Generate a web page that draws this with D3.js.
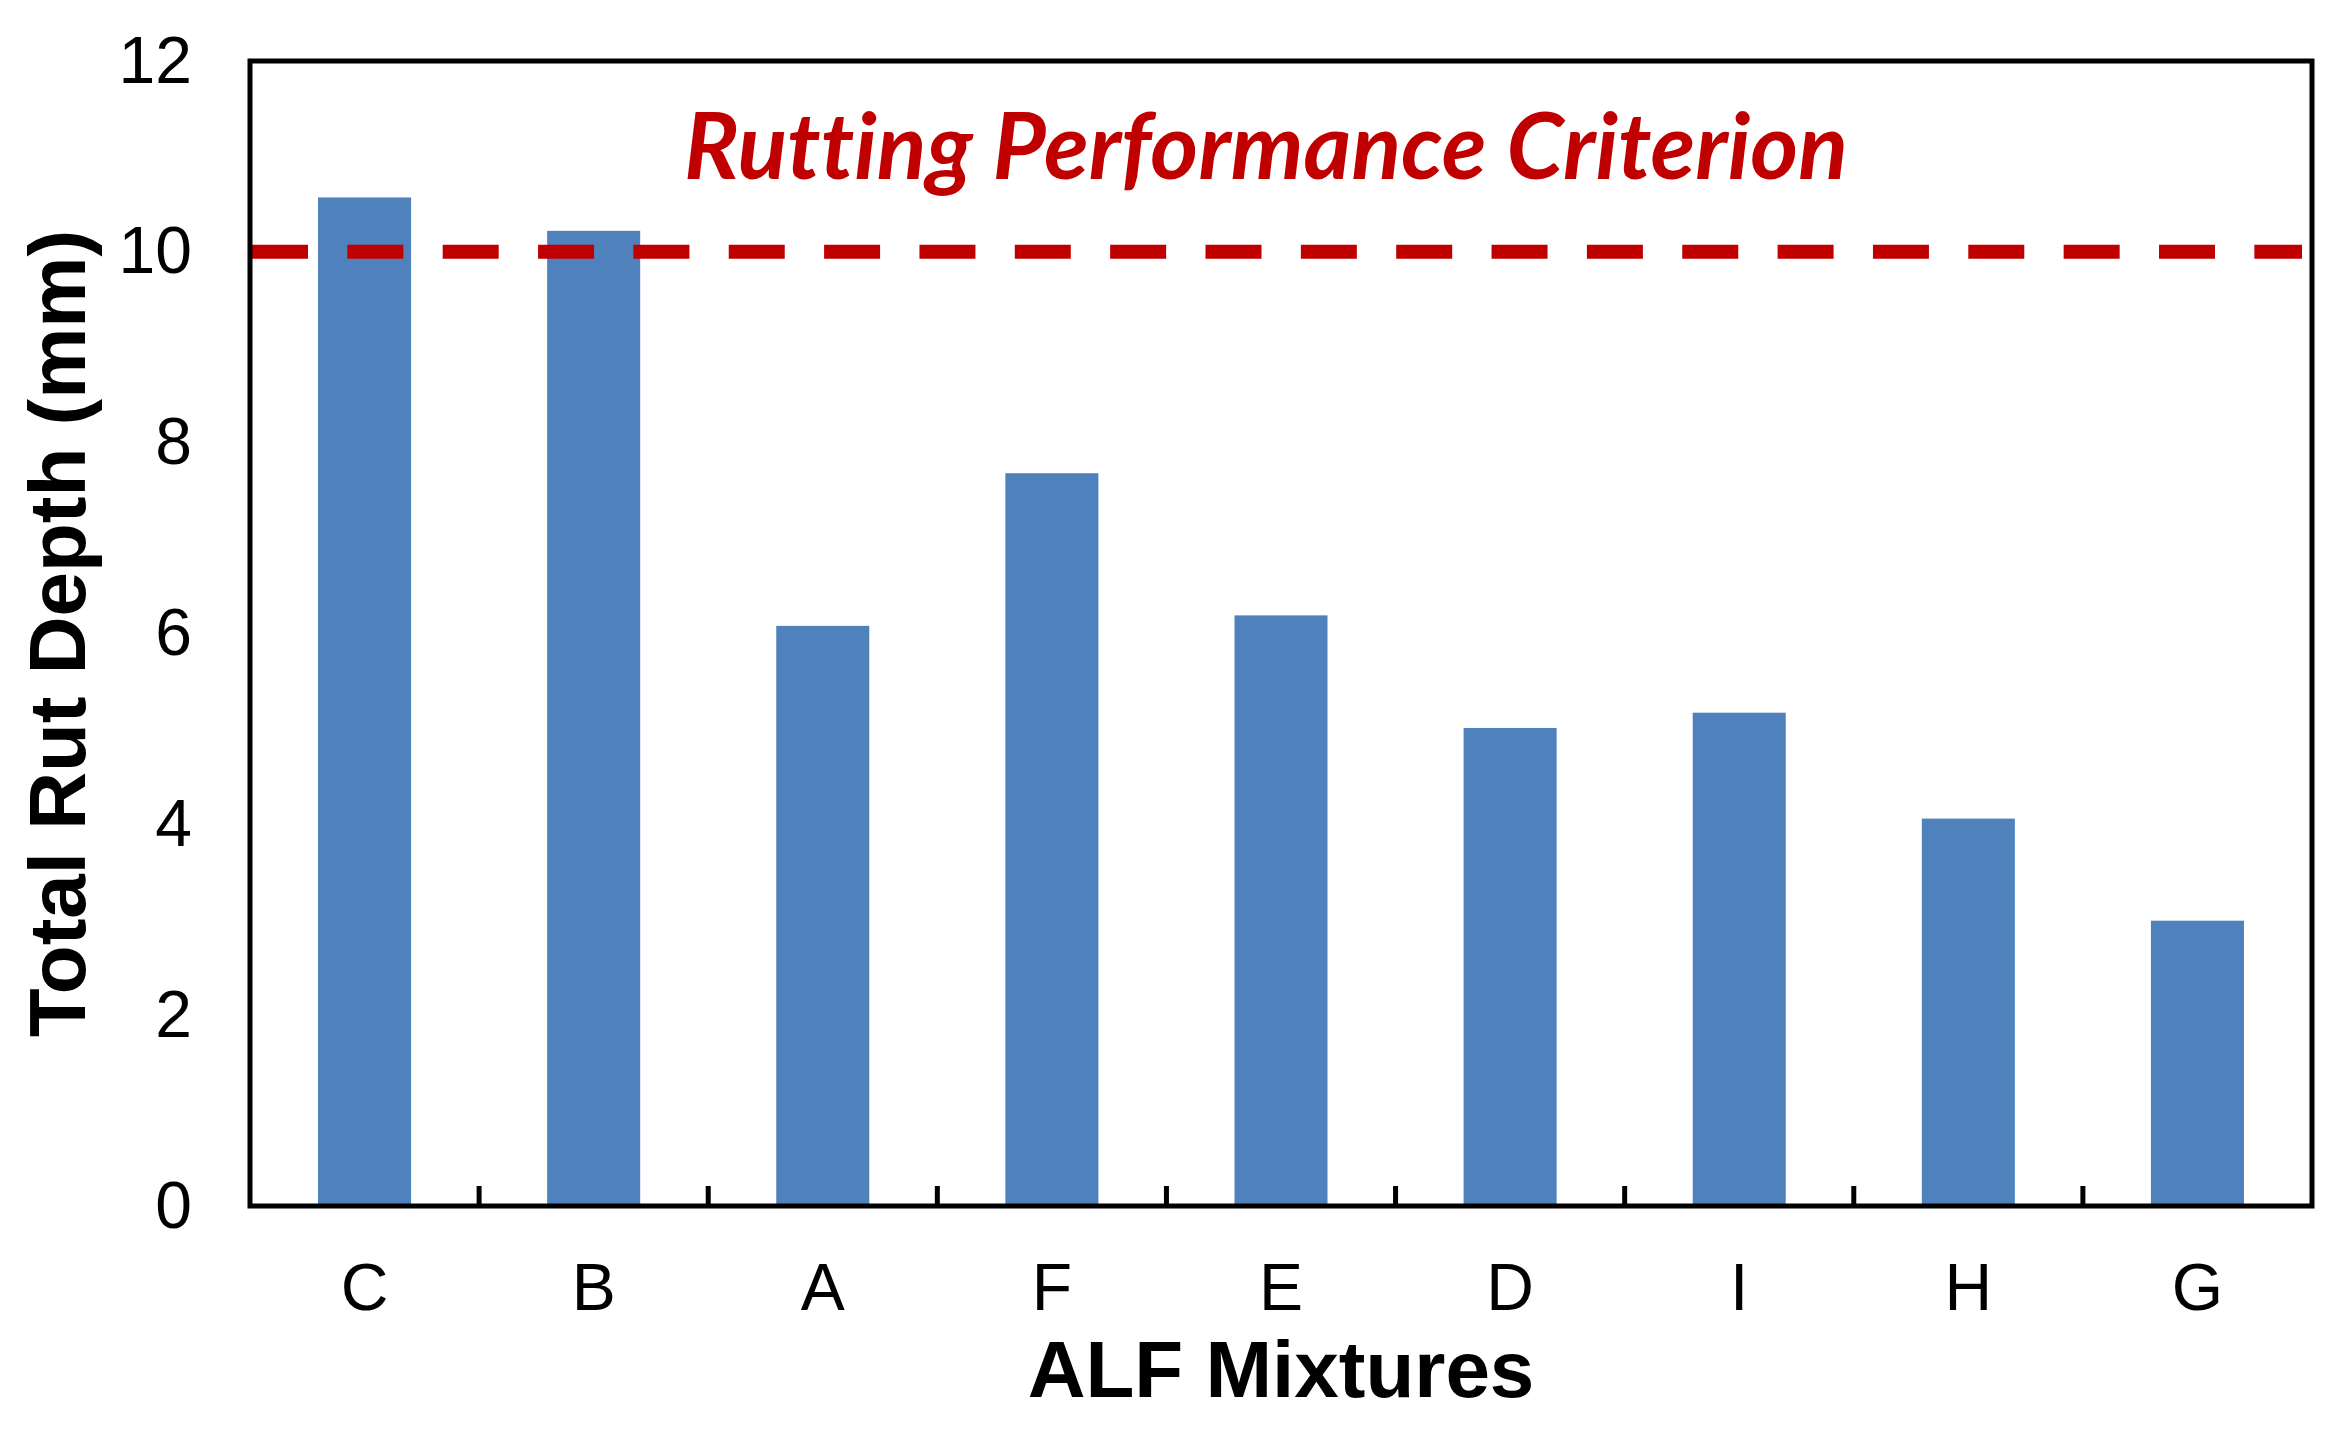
<!DOCTYPE html>
<html>
<head>
<meta charset="utf-8">
<script src="https://cdn.jsdelivr.net/npm/d3@7"></script>
<style>
  html, body { margin: 0; padding: 0; background: #fff; }
  svg { display: block; }
  text { font-variant-ligatures: none; font-feature-settings: "liga" 0, "clig" 0; }
</style>
</head>
<body>
<svg id="chart" width="2342" height="1430"></svg>
<script>
const categories = ["C", "B", "A", "F", "E", "D", "I", "H", "G"];
const rutDepth = [10.57, 10.22, 6.08, 7.68, 6.19, 5.01, 5.17, 4.06, 2.99];
const yTicks = [0, 2, 4, 6, 8, 10, 12];
const criterionValue = 10;
const criterionLabel = "Rutting Performance Criterion";
const xTitle = "ALF Mixtures";
const yTitle = "Total Rut Depth (mm)";

const W = 2342, H = 1430;
const m = { left: 250, right: 30, top: 61, bottom: 224 };
const svg = d3.select("#chart");

const x = d3.scaleBand().domain(categories)
  .range([m.left, W - m.right]).paddingInner(0.594).paddingOuter(0.297);
const y = d3.scaleLinear().domain([0, 12]).range([H - m.bottom, m.top]);

const axisFont = "'Liberation Sans', Arial, sans-serif";

// bars
svg.append("g").selectAll("rect").data(categories).join("rect")
  .attr("x", d => x(d))
  .attr("width", x.bandwidth())
  .attr("y", (d, i) => y(rutDepth[i]))
  .attr("height", (d, i) => y(0) - y(rutDepth[i]))
  .attr("fill", "#4F81BD");

// criterion dashed line
svg.append("line")
  .attr("x1", m.left + 2).attr("x2", W - m.right - 10)
  .attr("y1", y(criterionValue)).attr("y2", y(criterionValue))
  .attr("stroke", "#C00000").attr("stroke-width", 14)
  .attr("stroke-dasharray", "56 39.35");

// x-axis inside ticks at category boundaries
const step = x.step();
const boundaries = categories.slice(1).map(c => x(c) - (step - x.bandwidth()) / 2);
svg.append("g").selectAll("line").data(boundaries).join("line")
  .attr("x1", d => d).attr("x2", d => d)
  .attr("y1", y(0)).attr("y2", y(0) - 20)
  .attr("stroke", "#000").attr("stroke-width", 5);

// frame
svg.append("rect")
  .attr("x", m.left).attr("y", m.top)
  .attr("width", W - m.right - m.left).attr("height", y(0) - m.top)
  .attr("fill", "none").attr("stroke", "#000").attr("stroke-width", 5);

// y tick labels via axis
const yAxis = svg.append("g").attr("transform", `translate(${m.left},0)`)
  .call(d3.axisLeft(y).tickValues(yTicks).tickSize(0).tickPadding(58).tickFormat(d3.format("d")));
yAxis.select(".domain").remove();
yAxis.selectAll("text")
  .attr("font-family", axisFont).attr("font-size", 66).attr("fill", "#000")
  .attr("dy", "0.32em");

// x tick labels via axis
const xAxis = svg.append("g").attr("transform", `translate(0,${y(0)})`)
  .call(d3.axisBottom(x).tickSize(0).tickPadding(0));
xAxis.select(".domain").remove();
xAxis.selectAll("text")
  .attr("font-family", axisFont).attr("font-size", 66).attr("fill", "#000")
  .attr("y", 104).attr("dy", 0);

// x title
svg.append("text")
  .attr("x", (m.left + W - m.right) / 2).attr("y", 1397)
  .attr("text-anchor", "middle")
  .attr("font-family", axisFont).attr("font-weight", "bold").attr("font-size", 80)
  .text(xTitle);

// y title
svg.append("text")
  .attr("transform", `translate(85,${(m.top + y(0)) / 2}) rotate(-90)`)
  .attr("text-anchor", "middle")
  .attr("font-family", axisFont).attr("font-weight", "bold").attr("font-size", 80)
  .text(yTitle);

// criterion label
const lab = svg.append("text")
  .attr("x", 1266).attr("y", 179)
  .attr("text-anchor", "middle")
  .attr("font-family", "Lato, 'Open Sans', sans-serif")
  .attr("font-weight", "bold").attr("font-style", "italic")
  .attr("font-size", 88).attr("fill", "#C00000")
  .style("font-variant-ligatures", "none")
  .text(criterionLabel);
const wNow = lab.node().getComputedTextLength();
lab.attr("font-size", 88 * 1164 / wNow);
</script>
</body>
</html>
